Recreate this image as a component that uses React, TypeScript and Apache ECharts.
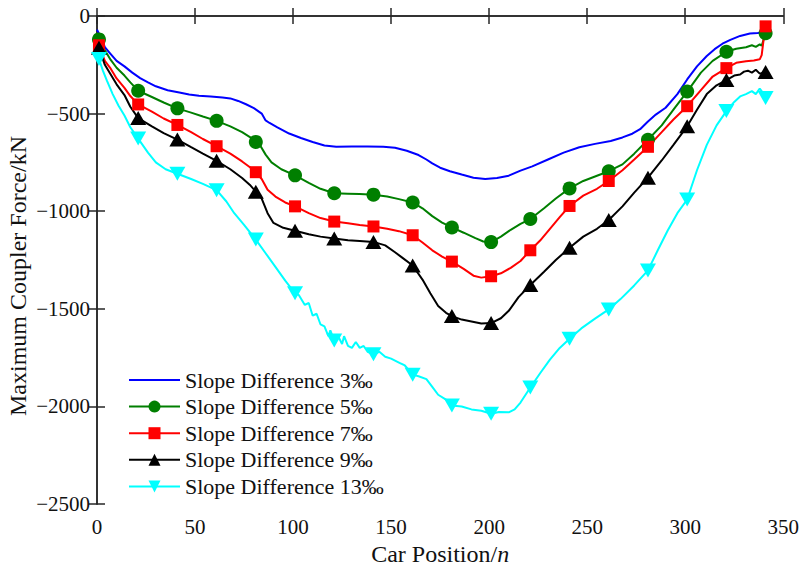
import React, { useEffect, useRef } from "react";
import * as echarts from "echarts";

const seriesNames = [
  "Slope Difference 3‰",
  "Slope Difference 5‰",
  "Slope Difference 7‰",
  "Slope Difference 9‰",
  "Slope Difference 13‰",
];

const xTicks = [0, 50, 100, 150, 200, 250, 300, 350];
const yTicks = [0, -500, -1000, -1500, -2000, -2500];
const xTitle = "Car Position/{i|n}";
const yTitle = "Maximum Coupler Force/kN";

// car positions carrying a marker
const markerX = [1, 21, 41, 61, 81, 101, 121, 141, 161, 181, 201, 221, 241, 261, 281, 301, 321, 341];

const slope3: [number, number][] = [
  [0, -70], [2, -110], [4, -160], [7, -195], [10, -230], [14, -258], [18, -290], [22, -318],
  [26, -340], [30, -360], [36, -380], [42, -392], [47, -402], [52, -408], [58, -412], [64, -418],
  [68, -422], [72, -435], [76, -452], [80, -472], [84, -500], [86, -535], [88, -548], [92, -570],
  [98, -602], [104, -625], [110, -645], [116, -663], [122, -670], [130, -668], [138, -668],
  [146, -670], [152, -675], [158, -690], [164, -712], [168, -735], [171, -755], [175, -777],
  [180, -795], [186, -812], [192, -828], [198, -835], [204, -830], [210, -818], [216, -792],
  [222, -770], [230, -735], [238, -700], [246, -672], [254, -655], [262, -640], [268, -622],
  [273, -603], [277, -580], [281, -540], [285, -505], [290, -470], [296, -400], [301, -325],
  [306, -258], [311, -205], [315, -170], [319, -142], [323, -122], [328, -102], [333, -90],
  [337, -87], [341, -82],
];

const slope5: [number, number][] = [
  [1, -120], [4, -175], [7, -225], [10, -265], [14, -305], [17, -340], [21, -383], [28, -415],
  [34, -443], [41, -473], [48, -495], [54, -515], [61, -537], [68, -565], [74, -595], [78, -620],
  [81, -645], [83, -660], [86, -710], [89, -750], [94, -785], [101, -816], [108, -855], [114, -885],
  [121, -908], [128, -910], [134, -912], [141, -915], [148, -925], [154, -938], [161, -955],
  [166, -985], [171, -1025], [176, -1058], [181, -1083], [187, -1110], [193, -1138], [197, -1155],
  [201, -1158], [206, -1130], [211, -1095], [216, -1065], [221, -1040], [228, -985], [234, -935],
  [241, -883], [248, -845], [255, -818], [261, -795], [268, -760], [274, -705], [281, -634],
  [288, -560], [294, -480], [301, -387], [308, -290], [314, -230], [321, -183], [326, -168],
  [331, -160], [334, -150], [336, -158], [338, -145], [339, -152], [340, -120], [341, -88],
];

const slope7: [number, number][] = [
  [1, -150], [4, -230], [7, -270], [10, -320], [14, -368], [17, -410], [21, -453], [28, -490],
  [34, -525], [41, -558], [48, -595], [54, -630], [61, -667], [68, -705], [74, -745], [78, -775],
  [81, -800], [84, -835], [87, -890], [91, -925], [96, -955], [101, -975], [108, -1010],
  [114, -1035], [121, -1053], [128, -1062], [134, -1070], [141, -1078], [148, -1090],
  [154, -1102], [161, -1123], [166, -1160], [171, -1200], [176, -1232], [181, -1258],
  [187, -1295], [192, -1330], [196, -1340], [201, -1333], [206, -1318], [211, -1290],
  [216, -1255], [221, -1200], [226, -1150], [231, -1090], [236, -1030], [241, -973], [248, -920],
  [255, -885], [261, -845], [268, -790], [274, -735], [281, -670], [288, -595], [294, -530],
  [301, -462], [308, -380], [314, -310], [321, -267], [326, -240], [331, -232], [335, -228],
  [338, -222], [339, -200], [340, -120], [341, -53],
];

const slope9: [number, number][] = [
  [1, -162], [4, -250], [7, -300], [10, -350], [14, -405], [17, -465], [21, -523], [28, -565],
  [34, -600], [41, -633], [48, -672], [54, -705], [61, -742], [68, -785], [74, -830], [78, -865],
  [81, -900], [84, -935], [87, -1010], [90, -1060], [95, -1085], [101, -1100], [108, -1118],
  [114, -1130], [121, -1140], [128, -1148], [134, -1152], [141, -1157], [147, -1175],
  [152, -1210], [156, -1240], [161, -1278], [166, -1350], [170, -1420], [174, -1485],
  [178, -1520], [181, -1537], [186, -1555], [191, -1565], [196, -1575], [201, -1573],
  [206, -1548], [210, -1510], [215, -1440], [221, -1378], [228, -1310], [234, -1250],
  [241, -1187], [248, -1130], [255, -1090], [261, -1045], [268, -975], [274, -905], [281, -828],
  [288, -740], [294, -660], [301, -565], [306, -480], [311, -400], [316, -355], [321, -328],
  [325, -305], [328, -300], [330, -285], [332, -280], [334, -290], [336, -275], [338, -295],
  [341, -287],
];

const slope13: [number, number][] = [
  [1, -220], [3, -280], [5, -330], [8, -400], [11, -460], [14, -510], [17, -570], [21, -628],
  [26, -700], [30, -750], [35, -785], [41, -808], [48, -835], [54, -860], [61, -892], [66, -950],
  [70, -1010], [75, -1070], [81, -1145], [86, -1215], [91, -1285], [96, -1355], [101, -1420],
  [103, -1430], [106, -1480], [108, -1470], [110, -1535], [112, -1525], [114, -1580],
  [116, -1590], [118, -1640], [119, -1610], [121, -1662], [123, -1640], [125, -1680],
  [126, -1640], [128, -1690], [130, -1700], [132, -1670], [134, -1700], [136, -1690],
  [138, -1720], [141, -1733], [144, -1720], [147, -1745], [150, -1755], [154, -1775],
  [157, -1790], [161, -1837], [164, -1845], [168, -1860], [171, -1900], [174, -1940],
  [178, -1965], [181, -1995], [186, -2000], [191, -2015], [196, -2022], [201, -2037],
  [205, -2028], [210, -2030], [213, -2015], [216, -1980], [221, -1903], [226, -1830],
  [231, -1760], [236, -1700], [241, -1653], [247, -1600], [254, -1550], [261, -1503],
  [267, -1450], [274, -1380], [281, -1303], [286, -1200], [291, -1100], [296, -1010],
  [301, -940], [306, -790], [311, -660], [316, -560], [321, -487], [325, -440], [328, -412],
  [331, -400], [334, -385], [336, -400], [338, -372], [339, -385], [341, -420],
];

const colors = ["#0000ff", "#007f00", "#ff0000", "#000000", "#00ffff"];
const FONT = "Liberation Serif";

function build(pts: [number, number][], marked: boolean) {
  return pts.map(([x, y]) =>
    marked && markerX.includes(x) ? { value: [x, y] } : { value: [x, y], symbol: "none" }
  );
}

const fmtY = (v: number) => (v < 0 ? "\u2212" + Math.abs(v) : String(v));

export default function App() {
  const ref = useRef<HTMLDivElement>(null);
  useEffect(() => {
    if (!ref.current) return;
    const chart = echarts.init(ref.current, undefined, { renderer: "svg" });
    const axisLine = { show: true, lineStyle: { color: "#262626", width: 1.5 } };
    const axisTick = { show: true, inside: true, length: 8, lineStyle: { color: "#262626", width: 1.5 } };
    const symbols = ["none", "circle", "rect", "triangle", "path://M0,0L20,0L10,17.3Z"];
    const sizes: any[] = [0, 14, 12, [16, 14], [16, 14]];
    const allData = [slope3, slope5, slope7, slope9, slope13];
    chart.setOption({
      animation: false,
      backgroundColor: "#ffffff",
      grid: { left: 97, right: 17, top: 16, bottom: 55 },
      graphic: [
        {
          type: "text",
          x: 18,
          y: 276,
          rotation: Math.PI / 2,
          style: {
            text: yTitle,
            fontFamily: FONT,
            fontSize: 24,
            fill: "#111",
            align: "center",
            verticalAlign: "middle",
          },
        },
      ],
      legend: {
        orient: "vertical",
        left: 128,
        top: 369,
        padding: 0,
        itemWidth: 51,
        itemHeight: 15,
        itemGap: 4.6,
        textStyle: { fontFamily: FONT, fontSize: 22, color: "#111" },
        data: seriesNames.map((n, i) =>
          i === 0 ? { name: n, itemStyle: { opacity: 0 } } : { name: n }
        ),
      },
      xAxis: [
        {
          type: "value",
          min: 0,
          max: 350,
          interval: 50,
          position: "bottom",
          axisLine,
          axisTick,
          splitLine: { show: false },
          axisLabel: {
            fontFamily: FONT,
            fontSize: 21,
            color: "#111",
            margin: 12,
            customValues: xTicks,
          },
          name: xTitle,
          nameLocation: "middle",
          nameGap: 31,
          nameTextStyle: {
            fontFamily: FONT,
            fontSize: 24,
            color: "#111",
            rich: { i: { fontFamily: FONT, fontSize: 24, fontStyle: "italic", color: "#111" } },
          },
        },
        {
          type: "value",
          min: 0,
          max: 350,
          interval: 50,
          position: "top",
          axisLine,
          axisTick,
          splitLine: { show: false },
          axisLabel: { show: false },
        },
      ],
      yAxis: [
        {
          type: "value",
          min: -2500,
          max: 0,
          interval: 500,
          position: "left",
          axisLine,
          axisTick,
          splitLine: { show: false },
          axisLabel: {
            fontFamily: FONT,
            fontSize: 21,
            color: "#111",
            margin: 7,
            formatter: fmtY,
            customValues: yTicks,
          },
        },
        {
          type: "value",
          min: -2500,
          max: 0,
          interval: 500,
          position: "right",
          axisLine,
          axisTick,
          splitLine: { show: false },
          axisLabel: { show: false },
        },
      ],
      series: allData.map((d, i) => ({
        name: seriesNames[i],
        type: "line",
        xAxisIndex: 0,
        yAxisIndex: 0,
        data: build(d, i > 0),
        symbol: symbols[i],
        symbolSize: sizes[i],
        showSymbol: true,
        lineStyle: { color: colors[i], width: 2 },
        itemStyle: { color: colors[i] },
        color: colors[i],
        emphasis: { disabled: true },
      })),
    });
    return () => chart.dispose();
  }, []);
  return (
    <div
      ref={ref}
      style={{ position: "absolute", left: 0, top: 0, width: 802, height: 571 }}
    />
  );
}
